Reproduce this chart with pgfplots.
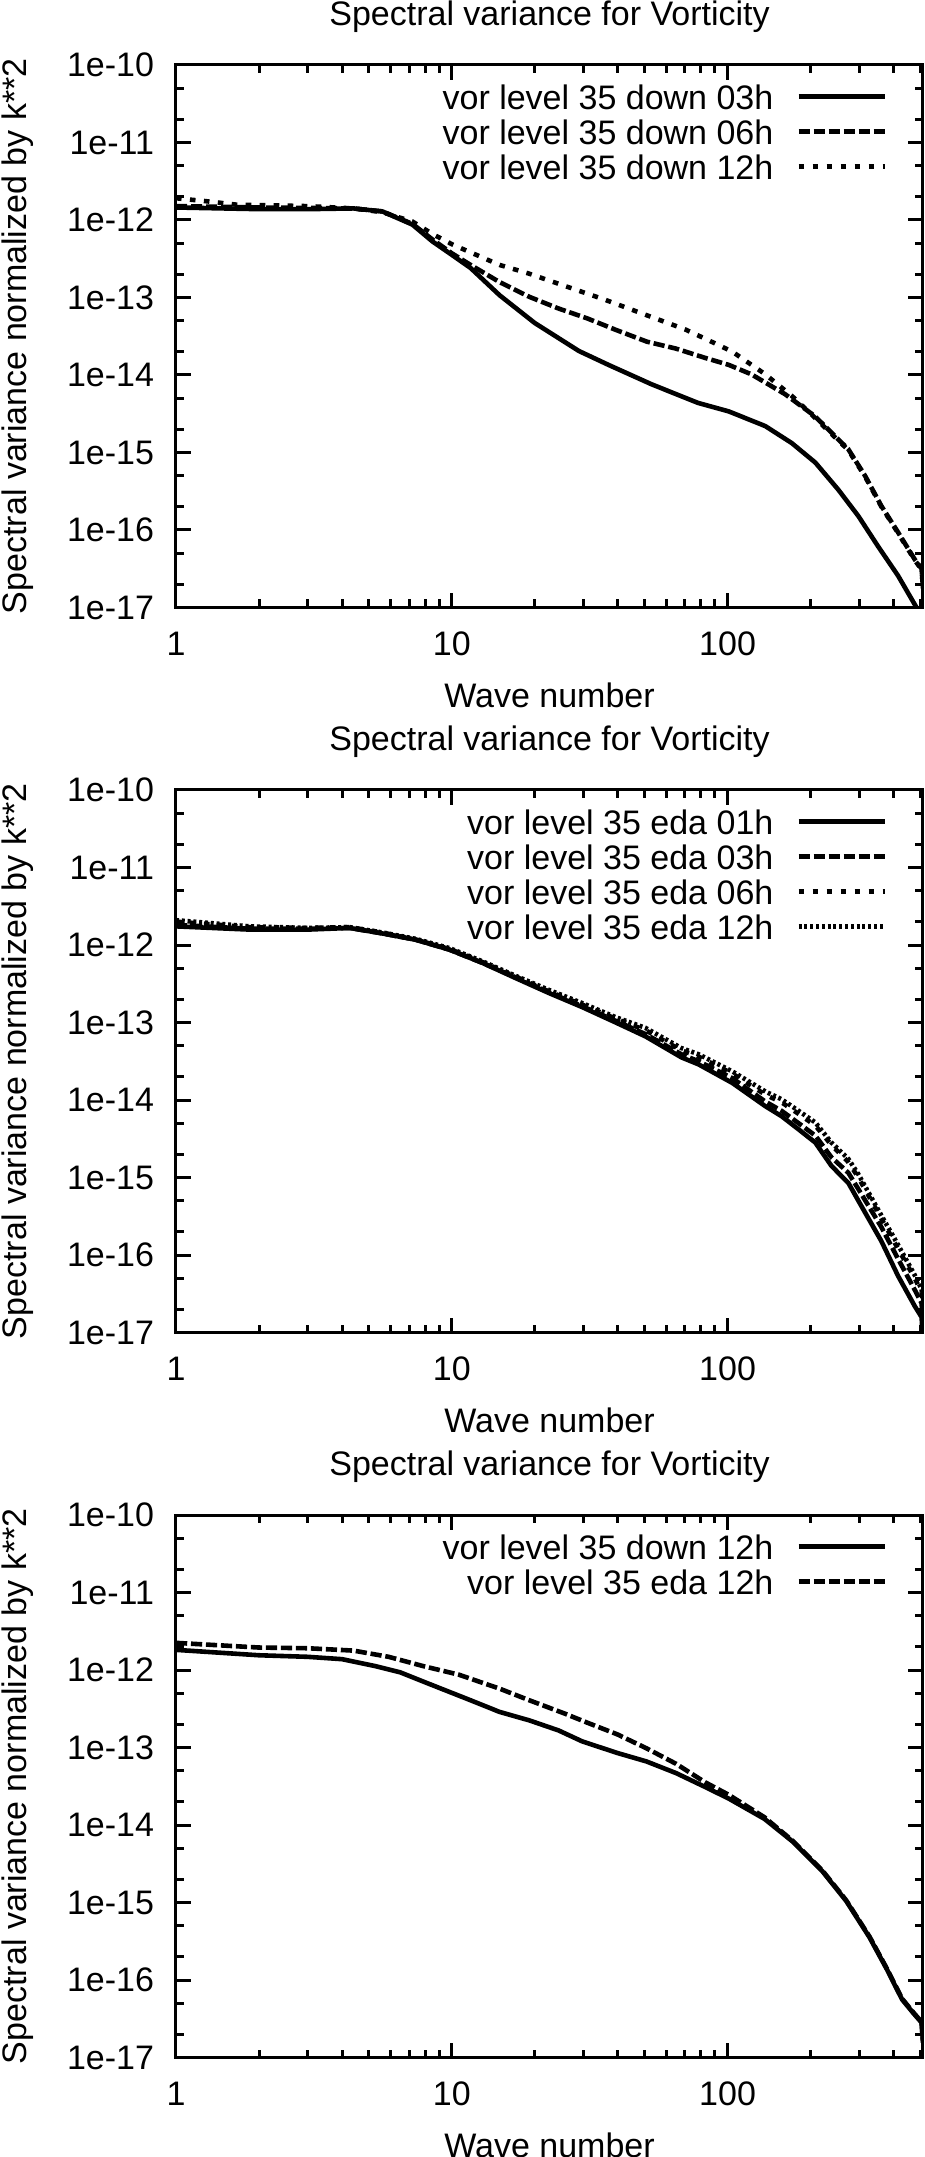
\documentclass[border=0pt]{standalone}
\usepackage{pgfplots}
\pgfplotsset{compat=1.18}
\usepackage{fontspec}
\setmainfont{Liberation Sans}
\newcommand\ff{\fontsize{17}{20}\selectfont}
\tikzset{
  s1/.style={solid},
  s2/.style={dash pattern=on 5.6pt off 1.9pt},
  s3/.style={dash pattern=on 2.8pt off 4.2pt},
  s4/.style={dash pattern=on 1.5pt off 1.4pt},
}
\pgfplotsset{
  every axis plot/.append style={no marks, black, line width=2.3pt},
  legend image code/.code={\draw[#1] (0pt,0.6pt) -- (43pt,0.6pt);},
  every axis title/.style={font=\ff, at={(axis description cs:0.5,1)}, anchor=center, yshift=24pt},
  every axis x label/.style={font=\ff, at={(axis description cs:0.5,0)}, anchor=center, yshift=-43.75pt},
  every axis y label/.style={font=\ff, at={(axis description cs:0,0.5)}, rotate=90, anchor=center, yshift=79.25pt},
}
\begin{document}
\begin{tikzpicture}
\useasboundingbox (0,0) rectangle (462.5pt,1078.5pt);
% ---------------- Panel 1
\begin{axis}[at={(88pt,774.75pt)}, anchor=south west,
    xmode=log, ymode=log,
    scale only axis, width=373.5pt, height=271.25pt,
    xmin=1, xmax=511, ymin=1e-17, ymax=1e-10,
    xtick={1,10,100}, xticklabels={1,10,100},
    minor xtick={2,3,4,5,6,7,8,9,20,30,40,50,60,70,80,90,200,300,400,500},
    ytick={1e-17,1e-16,1e-15,1e-14,1e-13,1e-12,1e-11,1e-10},
    yticklabels={1e-17,1e-16,1e-15,1e-14,1e-13,1e-12,1e-11,1e-10},
    minor ytick={2e-17,5e-17,2e-16,5e-16,2e-15,5e-15,2e-14,5e-14,2e-13,5e-13,2e-12,5e-12,2e-11,5e-11},
    tick align=inside, xtick pos=both, ytick pos=both,
    major tick length=7.5pt, minor tick length=4pt,
    every tick/.style={black, line width=1.5pt},
    axis line style={line width=1.5pt},
    xticklabel style={font=\ff, anchor=center, yshift=-18pt},
    yticklabel style={font=\ff, anchor=east, inner sep=0pt, xshift=-10.8pt},
    title={Spectral variance for Vorticity},
    xlabel={Wave number},
    ylabel={Spectral variance normalized by k**2},
    legend cell align=right, legend plot pos=right,
    legend style={at={(1,1)}, anchor=north east, xshift=-18pt, yshift=-7.5pt,
      draw=none, fill=none, inner sep=0pt, outer sep=0pt, row sep=0pt, column sep=11.5pt, font=\ff,
      nodes={inner sep=0pt, outer sep=0pt, text height=14.75pt, text depth=2.75pt}},
]
\addplot[s1] coordinates {(1,1.45e-12)(2,1.38e-12)(3,1.38e-12)(4.4,1.41e-12)(5.6,1.29e-12)(7.2,8.71e-13)(8.5,5.3e-13)(10,3.55e-13)(11.7,2.40e-13)(14.9,1.07e-13)(20,4.68e-14)(28.9,2.04e-14)(37,1.35e-14)(53,7.59e-15)(78,4.37e-15)(101,3.39e-15)(137,2.19e-15)(171,1.32e-15)(208,7.41e-16)(252,3.31e-16)(298,1.51e-16)(351,6.17e-17)(415,2.57e-17)(484,1.0e-17)(511,5.0e-18)};
\addlegendentry{vor level 35 down 03h}
\addplot[s2] coordinates {(1,1.51e-12)(2,1.45e-12)(4.4,1.41e-12)(5.6,1.29e-12)(7.2,8.91e-13)(8.5,5.62e-13)(10,3.72e-13)(11.7,2.63e-13)(14.9,1.58e-13)(19.1,1.02e-13)(24.3,7.24e-14)(31,5.37e-14)(39.5,3.80e-14)(51,2.69e-14)(65,2.19e-14)(83,1.66e-14)(101,1.35e-14)(122,1.02e-14)(162,5.62e-15)(207,2.95e-15)(274,1.10e-15)(315,5.01e-16)(361,2.04e-16)(415,9.33e-17)(477,4.17e-17)(505,3.16e-17)(511,1.78e-17)};
\addlegendentry{vor level 35 down 06h}
\addplot[s3] coordinates {(1,1.91e-12)(1.3,1.74e-12)(1.65,1.58e-12)(3,1.51e-12)(4.4,1.41e-12)(5.6,1.26e-12)(7.2,9.55e-13)(8.5,6.61e-13)(10.1,4.79e-13)(14.9,2.63e-13)(19,2.04e-13)(31,1.12e-13)(36,9.33e-14)(51,5.89e-14)(70,3.89e-14)(85,2.82e-14)(104,2.00e-14)(137,1.02e-14)(171,5.37e-15)(207,2.82e-15)(274,1.07e-15)(315,4.90e-16)(361,2.00e-16)(415,9.12e-17)(477,4.07e-17)(505,3.09e-17)(511,1.78e-17)};
\addlegendentry{vor level 35 down 12h}
\end{axis}
% ---------------- Panel 2
\begin{axis}[at={(88pt,412.25pt)}, anchor=south west,
    xmode=log, ymode=log,
    scale only axis, width=373.5pt, height=271.25pt,
    xmin=1, xmax=511, ymin=1e-17, ymax=1e-10,
    xtick={1,10,100}, xticklabels={1,10,100},
    minor xtick={2,3,4,5,6,7,8,9,20,30,40,50,60,70,80,90,200,300,400,500},
    ytick={1e-17,1e-16,1e-15,1e-14,1e-13,1e-12,1e-11,1e-10},
    yticklabels={1e-17,1e-16,1e-15,1e-14,1e-13,1e-12,1e-11,1e-10},
    minor ytick={2e-17,5e-17,2e-16,5e-16,2e-15,5e-15,2e-14,5e-14,2e-13,5e-13,2e-12,5e-12,2e-11,5e-11},
    tick align=inside, xtick pos=both, ytick pos=both,
    major tick length=7.5pt, minor tick length=4pt,
    every tick/.style={black, line width=1.5pt},
    axis line style={line width=1.5pt},
    xticklabel style={font=\ff, anchor=center, yshift=-18pt},
    yticklabel style={font=\ff, anchor=east, inner sep=0pt, xshift=-10.8pt},
    title={Spectral variance for Vorticity},
    xlabel={Wave number},
    ylabel={Spectral variance normalized by k**2},
    legend cell align=right, legend plot pos=right,
    legend style={at={(1,1)}, anchor=north east, xshift=-18pt, yshift=-7.5pt,
      draw=none, fill=none, inner sep=0pt, outer sep=0pt, row sep=0pt, column sep=11.5pt, font=\ff,
      nodes={inner sep=0pt, outer sep=0pt, text height=14.75pt, text depth=2.75pt}},
]
\addplot[s1] coordinates {(1,1.74e-12)(1.85,1.58e-12)(3,1.58e-12)(4.26,1.66e-12)(5.6,1.41e-12)(7.4,1.17e-12)(9.8,8.71e-13)(12.9,5.89e-13)(17.1,3.72e-13)(22.5,2.40e-13)(29.7,1.58e-13)(39.3,1.00e-13)(50.4,6.61e-14)(68,3.55e-14)(78.5,2.88e-14)(104,1.66e-14)(137,8.32e-15)(157,6.17e-15)(181,4.17e-15)(208,2.82e-15)(238,1.41e-15)(274,8.51e-16)(298,5.01e-16)(361,1.51e-16)(415,5.37e-17)(477,2.19e-17)(505,1.58e-17)(511,7.94e-18)};
\addlegendentry{vor level 35 eda 01h}
\addplot[s2] coordinates {(1,1.82e-12)(1.85,1.62e-12)(3,1.62e-12)(4.26,1.66e-12)(5.6,1.41e-12)(7.4,1.17e-12)(9.8,8.71e-13)(12.9,5.89e-13)(17.1,3.80e-13)(22.5,2.45e-13)(29.7,1.62e-13)(39.3,1.05e-13)(50.4,7.08e-14)(68,3.89e-14)(78.5,3.16e-14)(104,1.91e-14)(137,9.55e-15)(157,7.24e-15)(181,5.01e-15)(208,3.47e-15)(238,1.82e-15)(274,1.15e-15)(298,7.08e-16)(361,2.29e-16)(415,8.91e-17)(477,3.55e-17)(505,2.40e-17)(511,1.26e-17)};
\addlegendentry{vor level 35 eda 03h}
\addplot[s3] coordinates {(1,2.00e-12)(1.85,1.70e-12)(3,1.66e-12)(4.26,1.70e-12)(5.6,1.45e-12)(7.4,1.17e-12)(9.8,8.91e-13)(12.9,6.03e-13)(17.1,3.89e-13)(22.5,2.51e-13)(29.7,1.70e-13)(39.3,1.12e-13)(50.4,7.94e-14)(68,4.37e-14)(78.5,3.63e-14)(104,2.19e-14)(137,1.17e-14)(157,9.33e-15)(181,6.61e-15)(208,4.68e-15)(238,2.63e-15)(274,1.58e-15)(298,1.00e-15)(361,2.95e-16)(415,1.20e-16)(477,5.01e-17)(505,3.31e-17)(511,2.24e-17)};
\addlegendentry{vor level 35 eda 06h}
\addplot[s4] coordinates {(1,2.09e-12)(1.85,1.74e-12)(3,1.66e-12)(4.26,1.70e-12)(5.6,1.45e-12)(7.4,1.20e-12)(9.8,9.12e-13)(12.9,6.17e-13)(17.1,3.98e-13)(22.5,2.63e-13)(29.7,1.78e-13)(39.3,1.17e-13)(50.4,8.51e-14)(68,4.68e-14)(78.5,3.89e-14)(104,2.34e-14)(137,1.29e-14)(157,1.02e-14)(181,7.24e-15)(208,5.13e-15)(238,2.82e-15)(274,1.74e-15)(298,1.10e-15)(361,3.24e-16)(415,1.35e-16)(477,5.50e-17)(505,3.63e-17)(511,2.40e-17)};
\addlegendentry{vor level 35 eda 12h}
\end{axis}
% ---------------- Panel 3
\begin{axis}[at={(88pt,49.75pt)}, anchor=south west,
    xmode=log, ymode=log,
    scale only axis, width=373.5pt, height=271.25pt,
    xmin=1, xmax=511, ymin=1e-17, ymax=1e-10,
    xtick={1,10,100}, xticklabels={1,10,100},
    minor xtick={2,3,4,5,6,7,8,9,20,30,40,50,60,70,80,90,200,300,400,500},
    ytick={1e-17,1e-16,1e-15,1e-14,1e-13,1e-12,1e-11,1e-10},
    yticklabels={1e-17,1e-16,1e-15,1e-14,1e-13,1e-12,1e-11,1e-10},
    minor ytick={2e-17,5e-17,2e-16,5e-16,2e-15,5e-15,2e-14,5e-14,2e-13,5e-13,2e-12,5e-12,2e-11,5e-11},
    tick align=inside, xtick pos=both, ytick pos=both,
    major tick length=7.5pt, minor tick length=4pt,
    every tick/.style={black, line width=1.5pt},
    axis line style={line width=1.5pt},
    xticklabel style={font=\ff, anchor=center, yshift=-18pt},
    yticklabel style={font=\ff, anchor=east, inner sep=0pt, xshift=-10.8pt},
    title={Spectral variance for Vorticity},
    xlabel={Wave number},
    ylabel={Spectral variance normalized by k**2},
    legend cell align=right, legend plot pos=right,
    legend style={at={(1,1)}, anchor=north east, xshift=-18pt, yshift=-7.5pt,
      draw=none, fill=none, inner sep=0pt, outer sep=0pt, row sep=0pt, column sep=11.5pt, font=\ff,
      nodes={inner sep=0pt, outer sep=0pt, text height=14.75pt, text depth=2.75pt}},
]
\addplot[s1] coordinates {(1,1.82e-12)(2,1.55e-12)(3,1.48e-12)(4,1.38e-12)(5.3,1.12e-12)(6.5,9.33e-13)(8.7,6.17e-13)(11.7,4.07e-13)(14.9,2.88e-13)(19.1,2.24e-13)(24.4,1.66e-13)(29.7,1.20e-13)(39.8,8.51e-14)(50.8,6.61e-14)(65,4.68e-14)(83,3.09e-14)(101,2.19e-14)(136,1.20e-14)(173,6.03e-15)(221,2.51e-15)(269,1.05e-15)(327,3.55e-16)(379,1.35e-16)(429,5.62e-17)(472,3.72e-17)(505,2.82e-17)(511,1.55e-17)};
\addlegendentry{vor level 35 down 12h}
\addplot[s2] coordinates {(1,2.24e-12)(2,1.95e-12)(3,1.91e-12)(4.4,1.78e-12)(5.9,1.48e-12)(7.9,1.12e-12)(10.6,8.71e-13)(14.9,5.75e-13)(19.1,4.07e-13)(25.6,2.75e-13)(31,2.09e-13)(39.8,1.48e-13)(50.8,9.77e-14)(65,6.17e-14)(83,3.55e-14)(101,2.45e-14)(136,1.26e-14)(173,6.17e-15)(221,2.57e-15)(269,1.07e-15)(327,3.63e-16)(379,1.38e-16)(429,5.75e-17)(472,3.80e-17)(505,2.88e-17)(511,1.62e-17)};
\addlegendentry{vor level 35 eda 12h}
\end{axis}
\end{tikzpicture}
\end{document}
